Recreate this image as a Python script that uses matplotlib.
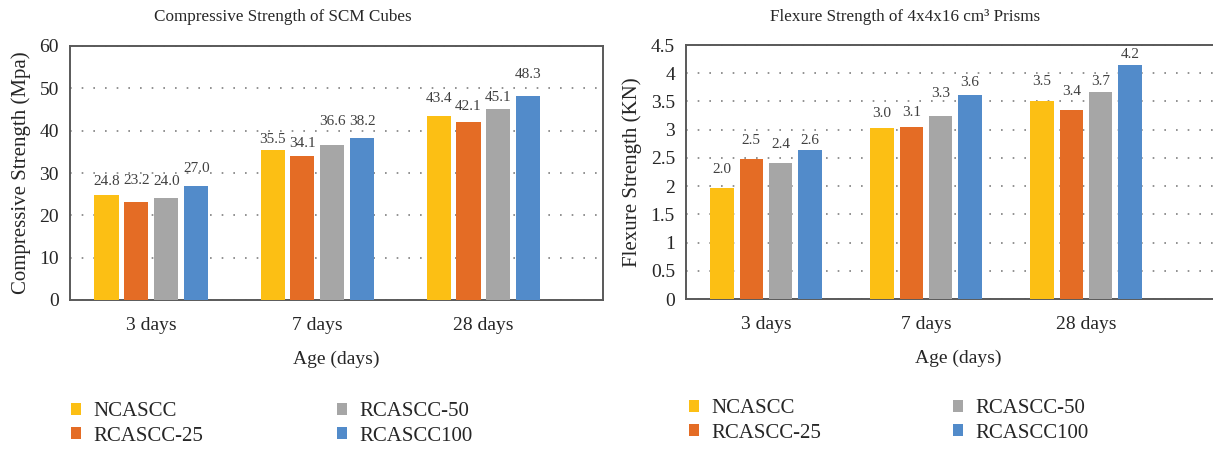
import numpy as np
import matplotlib
matplotlib.use("Agg")
import matplotlib.pyplot as plt
from matplotlib.patches import Patch

plt.rcParams['font.family'] = ['Liberation Serif', 'DejaVu Serif']
plt.rcParams['text.color'] = '#262626'
plt.rcParams['axes.labelcolor'] = '#262626'
plt.rcParams['xtick.color'] = '#262626'
plt.rcParams['ytick.color'] = '#262626'

ages = ['3 days', '7 days', '28 days']
mixes = ['NCASCC', 'RCASCC-25', 'RCASCC-50', 'RCASCC100']
colors = ['#FCBF14', '#E46C25', '#A6A6A6', '#528BCA']

# compressive strength (MPa), one list per mix
comp_nc = [24.8, 35.5, 43.4]
comp_r25 = [23.2, 34.1, 42.1]
comp_r50 = [24.0, 36.6, 45.1]
comp_r100 = [27.0, 38.2, 48.3]

# flexure strength (KN), bar heights
flex_nc = [1.96, 3.03, 3.51]
flex_r25 = [2.48, 3.05, 3.35]
flex_r50 = [2.41, 3.24, 3.67]
flex_r100 = [2.64, 3.62, 4.14]
# labels as printed on the chart
flex_nc_lbl = ['2.0', '3.0', '3.5']
flex_r25_lbl = ['2.5', '3.1', '3.4']
flex_r50_lbl = ['2.4', '3.3', '3.7']
flex_r100_lbl = ['2.6', '3.6', '4.2']

comp = [comp_nc, comp_r25, comp_r50, comp_r100]
comp_lbl = [['%.1f' % v for v in s] for s in comp]
flex = [flex_nc, flex_r25, flex_r50, flex_r100]
flex_lbl = [flex_nc_lbl, flex_r25_lbl, flex_r50_lbl, flex_r100_lbl]

# how far (px) each value label sits above its bar, as placed in the original
comp_dy = [[14, 10, 18], [21, 12, 15], [17, 24, 12], [17, 17, 21]]
flex_dy = [[19, 14, 19], [19, 14, 18], [18, 23, 10], [9, 12, 11]]

fig = plt.figure(figsize=(12.13, 4.49), dpi=100)
W, H = 1213, 449


def box(x0, y0, x1, y1):
    return [x0 / W, 1 - y1 / H, (x1 - x0) / W, (y1 - y0) / H]


def draw(ax, series, labels, dys, ymax, step, width, spacing, xlim):
    x = np.arange(len(ages))
    for i, (vals, lbls) in enumerate(zip(series, labels)):
        pos = x + (i - 1.5) * spacing
        bars = ax.bar(pos, vals, width, color=colors[i], zorder=3)
        for b, t, dy in zip(bars, lbls, dys[i]):
            ax.annotate(t, (b.get_x() + b.get_width() / 2, b.get_height()),
                        xytext=(0, dy * 0.72), textcoords='offset points',
                        ha='center', va='center', fontsize=11, color='#404040')
    ax.set_ylim(0, ymax)
    ax.set_yticks(np.arange(0, ymax + step / 2, step))
    ax.set_xlim(*xlim)
    ax.set_xticks(x)
    ax.set_xticklabels(ages)
    ax.tick_params(length=0, labelsize=14)
    ax.tick_params(axis='x', pad=12)
    ax.tick_params(axis='y', pad=8)
    ax.yaxis.grid(True, linestyle=(0, (1, 6)), color='#7f7f7f', lw=1.2, zorder=0)
    for s in ax.spines.values():
        s.set_color('#595959')
        s.set_linewidth(1.4)


ax1 = fig.add_axes(box(70, 46, 603, 300))
draw(ax1, comp, comp_lbl, comp_dy, 60, 10, 0.145, 0.18, (-0.49, 2.72))
ax1.yaxis.set_major_formatter(matplotlib.ticker.FuncFormatter(lambda v, p: '%d' % v))
ax1.set_ylabel('Compressive Strength (Mpa)', fontsize=15, labelpad=6)
ax1.set_xlabel('Age (days)', fontsize=14, labelpad=12)

ax2 = fig.add_axes(box(686, 45, 1230, 299))
draw(ax2, flex, flex_lbl, flex_dy, 4.5, 0.5, 0.147, 0.184, (-0.5, 2.9))
ax2.yaxis.set_major_formatter(matplotlib.ticker.FuncFormatter(lambda v, p: ('%g' % v)))
ax2.set_ylabel('Flexure Strength (KN)', fontsize=15, labelpad=6)
ax2.set_xlabel('Age (days)', fontsize=14, labelpad=12)

fig.text(283 / W, 1 - 17 / H, 'Compressive Strength of SCM Cubes',
         ha='center', va='center', fontsize=12.3)
fig.text(905 / W, 1 - 17 / H, 'Flexure Strength of 4x4x16 cm³ Prisms',
         ha='center', va='center', fontsize=12.3)

handles = [Patch(facecolor=c, edgecolor='none') for c in colors]
leg_kw = dict(ncol=2, loc='center left', frameon=False, fontsize=15,
              handlelength=0.48, handleheight=0.48, handletextpad=0.62,
              labelspacing=0.25)
fig.legend(handles, mixes, bbox_to_anchor=(52 / W, 1 - 424 / H),
           columnspacing=6.4, **leg_kw)
fig.legend(handles, mixes, bbox_to_anchor=(670 / W, 1 - 421 / H),
           columnspacing=6.3, **leg_kw)

fig.savefig('out.png', dpi=100)
